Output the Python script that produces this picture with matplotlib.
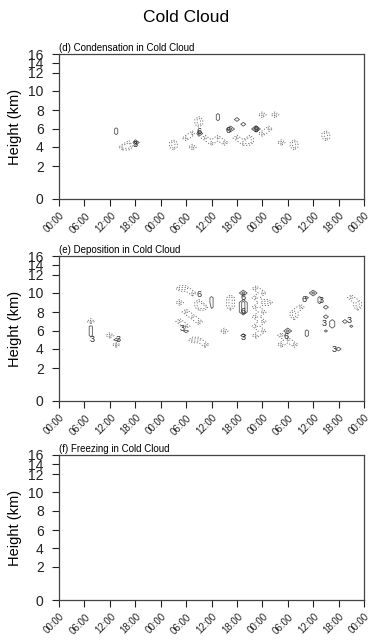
import matplotlib
matplotlib.use('Agg')
import matplotlib.pyplot as plt
import matplotlib.transforms as mtransforms
import numpy as np

plt.rcParams['font.family'] = ['Liberation Sans', 'DejaVu Sans']

# height axis: tick heights and where they sit on the (stretched) axis
height_ticks = [0, 2, 4, 6, 8, 10, 12, 14, 16]
height_pos = [0, 33, 52, 70, 89, 108, 126, 136, 145]

time_labels = ['00:00', '06:00', '12:00', '18:00'] * 3 + ['00:00']
time_ticks = np.arange(0, 73, 6)

titles = ['(d) Condensation in Cold Cloud',
          '(e) Deposition in Cold Cloud',
          '(f) Freezing in Cold Cloud']

# (time in hours, height in km, value)
cond_t = [13.5, 13.5, 15, 16.5, 16.5, 18, 27, 27, 30, 31.5, 31.5, 33, 33, 33, 34.5, 36,
          37.5, 37.5, 37.5, 39, 40.5, 42, 42, 43.5, 43.5, 45, 45, 46.5, 48, 48, 49.5,
          51, 52.5, 55.5, 55.5, 63, 63]
cond_h = [5.5, 6.0, 4.0, 4.0, 4.5, 4.5, 4.0, 4.5, 5.0, 5.5, 4.0, 6.5, 7.0, 5.5, 5.0, 4.5,
          5.0, 7.0, 7.5, 4.5, 6.0, 5.0, 7.0, 4.5, 6.5, 5.0, 4.5, 6.0, 5.5, 7.5, 6.0,
          7.5, 4.5, 4.5, 4.0, 5.5, 5.0]
cond_v = [4, 4, -8, -8, -6, 8, -8, -8, -8, -8, -8, -8, -8, 8, -8, -8,
          -8, 4, 4, -8, 8, -8, 5, -8, 5, -8, -8, 10, -8, -8, -8,
          -8, -8, -8, -8, -8, -8]

dep_t = [7.5, 7.5, 7.5, 7.5, 12, 13.5, 13.5, 28.5, 30, 31.5, 28.5, 30, 28.5, 30, 31.5,
         31.5, 33, 33, 33, 34.5, 33, 34.5, 30, 36, 36, 36, 40.5, 40.5, 40.5, 39,
         43.5, 43.5, 43.5, 43.5, 43.5, 46.5, 46.5, 46.5, 46.5, 46.5, 46.5, 48, 48, 48, 48,
         48, 49.5, 52.5, 52.5, 54, 55.5, 54, 55.5, 55.5, 57, 58.5, 60, 61.5, 61.5, 58.5,
         58.5, 63, 63, 64.5, 64.5, 63, 67.5, 69, 66, 70.5, 70.5, 69]
dep_h = [7.0, 6.5, 6.0, 5.5, 5.5, 5.0, 4.5, 10.5, 10.5, 10.0, 9.0, 8.0, 7.0, 6.0, 7.5,
         5.0, 9.0, 8.5, 7.0, 8.5, 5.0, 4.5, 6.5, 9.0, 8.5, 9.5, 9.5, 9.0, 8.5, 6.0,
         10.0, 9.0, 8.0, 8.5, 5.5, 10.5, 9.5, 8.5, 7.5, 6.5, 5.5, 10.0, 9.0, 8.0, 7.0,
         6.0, 9.0, 5.5, 4.5, 5.0, 4.5, 6.0, 8.0, 7.5, 8.5, 9.5, 10.0, 9.5, 9.0, 6.0,
         5.5, 8.5, 7.5, 7.0, 6.5, 6.0, 7.0, 6.5, 4.0, 9.0, 8.5, 9.5]
dep_v = [-8, 4, 4, 4, -8, 5, -8, -8, -8, -8, -8, -8, -8, 5, -8,
         -8, -8, -8, -8, -8, -8, -8, -8, 4, 4, 4, -8, -8, -8, -8,
         8, 8, 8, 8, 5, -8, -8, -8, -8, -8, -8, -8, -8, -8, -8,
         -8, -8, -8, -8, -8, -8, 8, -8, -8, -8, 4, 8, 4, 4, 4,
         4, 5, 5, 5, 5, 4, 5, 4, 5, -8, -8, -8]

# contour labels (text, time, height)
cond_labels = [('3', 18, 4.3), ('6', 33, 5.7), ('6', 40, 5.8), ('9', 46.5, 5.9)]
dep_labels = [('3', 7.8, 5.0), ('3', 14, 5.0), ('3', 29, 6.3), ('6', 33, 9.8),
              ('6', 43.4, 9.5), ('6', 43.4, 8.0), ('3', 43.4, 5.3), ('6', 53.6, 5.4),
              ('6', 57.8, 9.3), ('3', 62, 9.2), ('3', 62.6, 6.8), ('3', 68.5, 7.1),
              ('3', 65, 4.0)]

grid_t = np.arange(0, 72.01, 1.5)
grid_h = np.arange(0, 16.01, 0.5)


def make_field(ts, hs, vs):
    z = np.zeros((len(grid_h), len(grid_t)))
    for t, h, v in zip(ts, hs, vs):
        i = np.argmin(abs(grid_h - h))
        j = np.argmin(abs(grid_t - t))
        z[i, j] = v
    return z


fields = [make_field(cond_t, cond_h, cond_v), make_field(dep_t, dep_h, dep_v), None]
labels = [cond_labels, dep_labels, []]

fwd = lambda h: np.interp(h, height_ticks, height_pos)
inv = lambda p: np.interp(p, height_pos, height_ticks)

fig = plt.figure(figsize=(3.71, 6.40), dpi=100)
fig.text(0.502, 0.973, 'Cold Cloud', ha='center', va='center', fontsize=12.5)

shift = mtransforms.ScaledTranslation(4/100., 0, fig.dpi_scale_trans)

bottoms = [1 - 199/640., 1 - 401/640., 1 - 600/640.]
for k in range(3):
    ax = fig.add_axes([59/371., bottoms[k], 305/371., 145/640.])
    ax.set_yscale('function', functions=(fwd, inv))
    if fields[k] is not None:
        z = fields[k]
        ax.contour(grid_t, grid_h, z, levels=[-6, -3], colors='#666666',
                   linewidths=0.6, linestyles=[(0, (1.5, 2))])
        ax.contour(grid_t, grid_h, z, levels=[3, 6, 9], colors='#555555',
                   linewidths=0.6, linestyles='solid')
        for s, t, h in labels[k]:
            ax.text(t, h, s, fontsize=6.5, ha='center', va='center', color='#222222')
    ax.set_xlim(0, 72)
    ax.set_ylim(0, 16)
    ax.set_yticks(height_ticks)
    ax.set_yticklabels([str(v) for v in height_ticks], fontsize=10)
    ax.yaxis.set_minor_locator(matplotlib.ticker.NullLocator())
    ax.set_xticks(time_ticks)
    ax.set_xticklabels(time_labels, fontsize=7, rotation=45, ha='right',
                       va='center', rotation_mode='anchor')
    ax.tick_params(axis='y', direction='out', length=5, width=0.8, pad=6, colors='#222222')
    ax.tick_params(axis='x', direction='out', length=5, width=0.8, pad=6, colors='#222222')
    for lab in ax.get_xticklabels():
        lab.set_transform(lab.get_transform() + shift)
    for sp in ax.spines.values():
        sp.set_color('#444444')
        sp.set_linewidth(0.9)
    ax.set_ylabel('Height (km)', fontsize=10.5)
    ax.yaxis.set_label_coords(-0.12, 0.5)
    ax.set_title(titles[k], loc='left', fontsize=7, pad=2)

fig.savefig('out.png', dpi=100)
